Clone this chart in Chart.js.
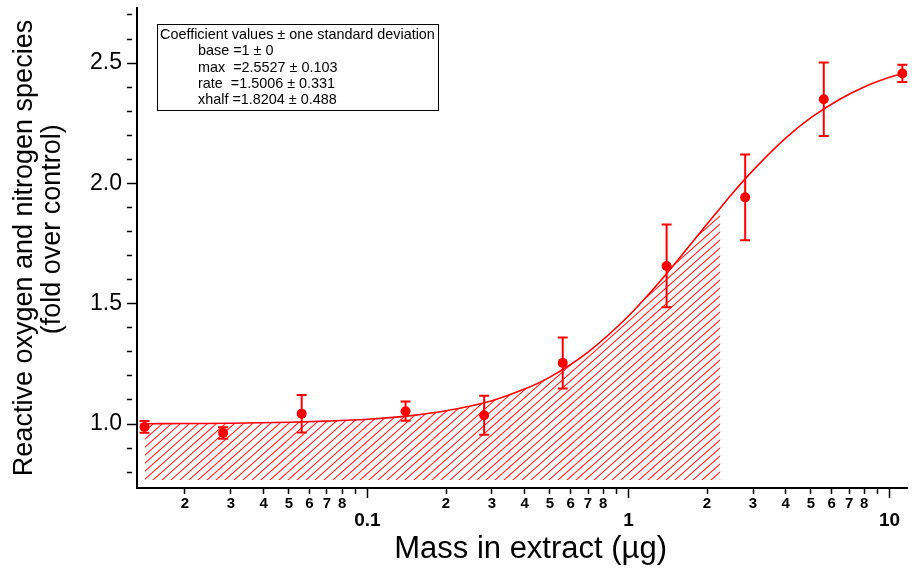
<!DOCTYPE html>
<html>
<head>
<meta charset="utf-8">
<script src="https://cdn.jsdelivr.net/npm/chart.js@4.4.1/dist/chart.umd.min.js"></script>
<style>
  html, body { margin: 0; padding: 0; background: #fff; }
</style>
</head>
<body>
<canvas id="chart" width="912" height="569"></canvas>
<script>
// measured points: mass in extract (µg) vs ROS (fold over control)
const massValues = [0.014, 0.028, 0.056, 0.14, 0.28, 0.56, 1.4, 2.8, 5.6, 11.2];
const rosValues = [0.988, 0.963, 1.043, 1.053, 1.036, 1.254, 1.657, 1.942, 2.350, 2.457];
const rosErrors = [0.024, 0.024, 0.078, 0.040, 0.081, 0.106, 0.172, 0.178, 0.153, 0.036];

// fitted curve
const fitMass = [0.014, 0.02, 0.03, 0.05, 0.07, 0.1, 0.15, 0.2, 0.3, 0.4, 0.5, 0.7, 1.0, 1.3, 1.6, 2.0, 2.25, 2.5, 3.0, 4.0, 5.0, 6.5, 8.0, 10, 11.2];
const fitRos = [1.001, 1.002, 1.003, 1.007, 1.012, 1.020, 1.036, 1.055, 1.097, 1.145, 1.195, 1.299, 1.449, 1.584, 1.701, 1.831, 1.898, 1.958, 2.054, 2.188, 2.273, 2.352, 2.401, 2.441, 2.457];

// hatched area under the curve
const shadeMass = [0.014, 0.02, 0.03, 0.05, 0.07, 0.1, 0.15, 0.2, 0.3, 0.4, 0.5, 0.7, 1.0, 1.3, 1.6, 2.0, 2.25];
const shadeRos = [1.001, 1.002, 1.003, 1.007, 1.012, 1.020, 1.036, 1.055, 1.097, 1.145, 1.195, 1.299, 1.449, 1.584, 1.701, 1.831, 1.898];
const shadeFloor = 0.767;

// axis ticks
const xTickValues = [0.02, 0.03, 0.04, 0.05, 0.06, 0.07, 0.08, 0.09, 0.1,
                     0.2, 0.3, 0.4, 0.5, 0.6, 0.7, 0.8, 0.9, 1,
                     2, 3, 4, 5, 6, 7, 8, 9, 10];
const xMajorTicks = [0.1, 1, 10];
const yTickValues = [0.8, 0.9, 1.0, 1.1, 1.2, 1.3, 1.4, 1.5, 1.6, 1.7, 1.8, 1.9,
                     2.0, 2.1, 2.2, 2.3, 2.4, 2.5, 2.6, 2.7];
const yLabelTicks = [1.0, 1.5, 2.0, 2.5];

const coefLines = [
    'Coefficient values \u00b1 one standard deviation',
    'base =1 \u00b1 0',
    'max  =2.5527 \u00b1 0.103',
    'rate  =1.5006 \u00b1 0.331',
    'xhalf =1.8204 \u00b1 0.488'
];

const RED = '#ff0000';
const FONT = '"Liberation Sans", Arial, sans-serif';
Chart.defaults.font.family = FONT;
Chart.defaults.color = '#000';

function isXMajor(v) {
    return xMajorTicks.some(m => Math.abs(m - v) < 1e-9);
}
function isYMajor(v) {
    return yLabelTicks.some(m => Math.abs(m - v) < 1e-9);
}

// diagonal hatch pattern
function makeHatch() {
    const w = 9, h = 8;
    const c = document.createElement('canvas');
    c.width = w; c.height = h;
    const g = c.getContext('2d');
    g.strokeStyle = 'rgba(255,0,0,0.85)';
    g.lineWidth = 1.1;
    g.beginPath();
    for (const dx of [-w, 0, w]) {
        g.moveTo(dx - 1, h + h / w);
        g.lineTo(dx + w + 1, -h / w);
    }
    g.stroke();
    return g.createPattern(c, 'repeat');
}

// no extra room for overhanging tick labels: the plot area is fixed
function noPad(scale) {
    scale.paddingTop = 0;
    scale.paddingBottom = 0;
    scale.paddingLeft = 0;
    scale.paddingRight = 0;
}

const errorBars = {
    id: 'errorBars',
    afterDatasetsDraw(chart) {
        const {ctx, scales: {x, y}} = chart;
        ctx.save();
        ctx.strokeStyle = RED;
        ctx.lineWidth = 2;
        massValues.forEach((m, i) => {
            const px = x.getPixelForValue(m);
            const top = y.getPixelForValue(rosValues[i] + rosErrors[i]);
            const bot = y.getPixelForValue(rosValues[i] - rosErrors[i]);
            ctx.beginPath();
            ctx.moveTo(px, top); ctx.lineTo(px, bot);
            ctx.moveTo(px - 5, top); ctx.lineTo(px + 5, top);
            ctx.moveTo(px - 5, bot); ctx.lineTo(px + 5, bot);
            ctx.stroke();
        });
        ctx.restore();
    }
};

const coefBox = {
    id: 'coefBox',
    afterDraw(chart) {
        const ctx = chart.ctx;
        ctx.save();
        ctx.fillStyle = '#fff';
        ctx.fillRect(157.5, 24.5, 281, 86);
        ctx.strokeStyle = '#000';
        ctx.lineWidth = 1;
        ctx.strokeRect(157.5, 24.5, 281, 86);
        ctx.fillStyle = '#000';
        ctx.font = '14.4px ' + FONT;
        ctx.textBaseline = 'middle';
        coefLines.forEach((t, i) => {
            ctx.fillText(t, i === 0 ? 160 : 198, 35 + i * 16.3);
        });
        ctx.restore();
    }
};

const ctx = document.getElementById('chart').getContext('2d');
const chart = new Chart(ctx, {
    type: 'line',
    data: {
        datasets: [
            {
                label: 'shade',
                data: shadeMass.map((m, i) => ({x: m, y: shadeRos[i]})),
                fill: {value: shadeFloor},
                backgroundColor: makeHatch(),
                borderColor: 'rgba(0,0,0,0)',
                borderWidth: 0,
                pointRadius: 0,
                cubicInterpolationMode: 'monotone'
            },
            {
                label: 'fit',
                data: fitMass.map((m, i) => ({x: m, y: fitRos[i]})),
                borderColor: RED,
                borderWidth: 1.6,
                pointRadius: 0,
                fill: false,
                cubicInterpolationMode: 'monotone'
            },
            {
                label: 'data',
                data: massValues.map((m, i) => ({x: m, y: rosValues[i]})),
                showLine: false,
                pointRadius: 5,
                pointBackgroundColor: RED,
                pointBorderColor: RED,
                pointBorderWidth: 0
            }
        ]
    },
    options: {
        responsive: false,
        animation: false,
        layout: {padding: {top: 8, left: 0, right: 0, bottom: 0}},
        plugins: {
            legend: {display: false},
            tooltip: {enabled: false}
        },
        scales: {
            x: {
                type: 'logarithmic',
                min: 0.0131,
                max: 11.67,
                afterBuildTicks: (scale) => {
                    scale.ticks = xTickValues.map(v => ({value: v}));
                },
                afterFit: (scale) => { scale.height = 81; noPad(scale); },
                border: {display: true, color: '#000', width: 2},
                grid: {
                    display: true,
                    drawOnChartArea: false,
                    drawTicks: true,
                    tickLength: 10,
                    tickColor: '#000',
                    tickWidth: 1.5,
                    tickBorderDash: (c) => (c.tick && isXMajor(c.tick.value)) ? [] : [5, 30]
                },
                ticks: {
                    autoSkip: false,
                    maxRotation: 0,
                    minRotation: 0,
                    padding: -2,
                    color: '#000',
                    font: (c) => (c.tick && isXMajor(c.tick.value))
                        ? {size: 19, weight: 'bold', lineHeight: 0.87}
                        : {size: 15, weight: 'bold', lineHeight: 1},
                    callback: (value) => {
                        if (isXMajor(value)) return ['', String(value)];
                        const d = Math.round(value / Math.pow(10, Math.floor(Math.log10(value) + 1e-9)));
                        return d <= 8 ? String(d) : '';
                    }
                },
                title: {
                    display: true,
                    text: '  Mass in extract (\u00b5g)',
                    color: '#000',
                    font: {size: 31, lineHeight: 1.2},
                    padding: {top: 0, bottom: 1}
                }
            },
            y: {
                type: 'linear',
                min: 0.734,
                max: 2.729,
                afterBuildTicks: (scale) => {
                    scale.ticks = yTickValues.map(v => ({value: v}));
                },
                afterFit: (scale) => { scale.width = 137; noPad(scale); },
                border: {display: true, color: '#000', width: 2},
                grid: {
                    display: true,
                    drawOnChartArea: false,
                    drawTicks: true,
                    tickLength: 10,
                    tickColor: '#000',
                    tickWidth: 1.5,
                    tickBorderDash: (c) => (c.tick && isYMajor(c.tick.value)) ? [] : [5, 30]
                },
                ticks: {
                    autoSkip: false,
                    padding: 5,
                    color: '#000',
                    font: {size: 23},
                    callback: (value) => isYMajor(value) ? value.toFixed(1) : ''
                },
                title: {
                    display: true,
                    text: ['Reactive oxygen and nitrogen species', '     (fold over control)'],
                    color: '#000',
                    font: {size: 27, lineHeight: 1.05},
                    padding: {top: 10, bottom: 0}
                }
            }
        }
    },
    plugins: [errorBars, coefBox]
});
</script>
</body>
</html>
